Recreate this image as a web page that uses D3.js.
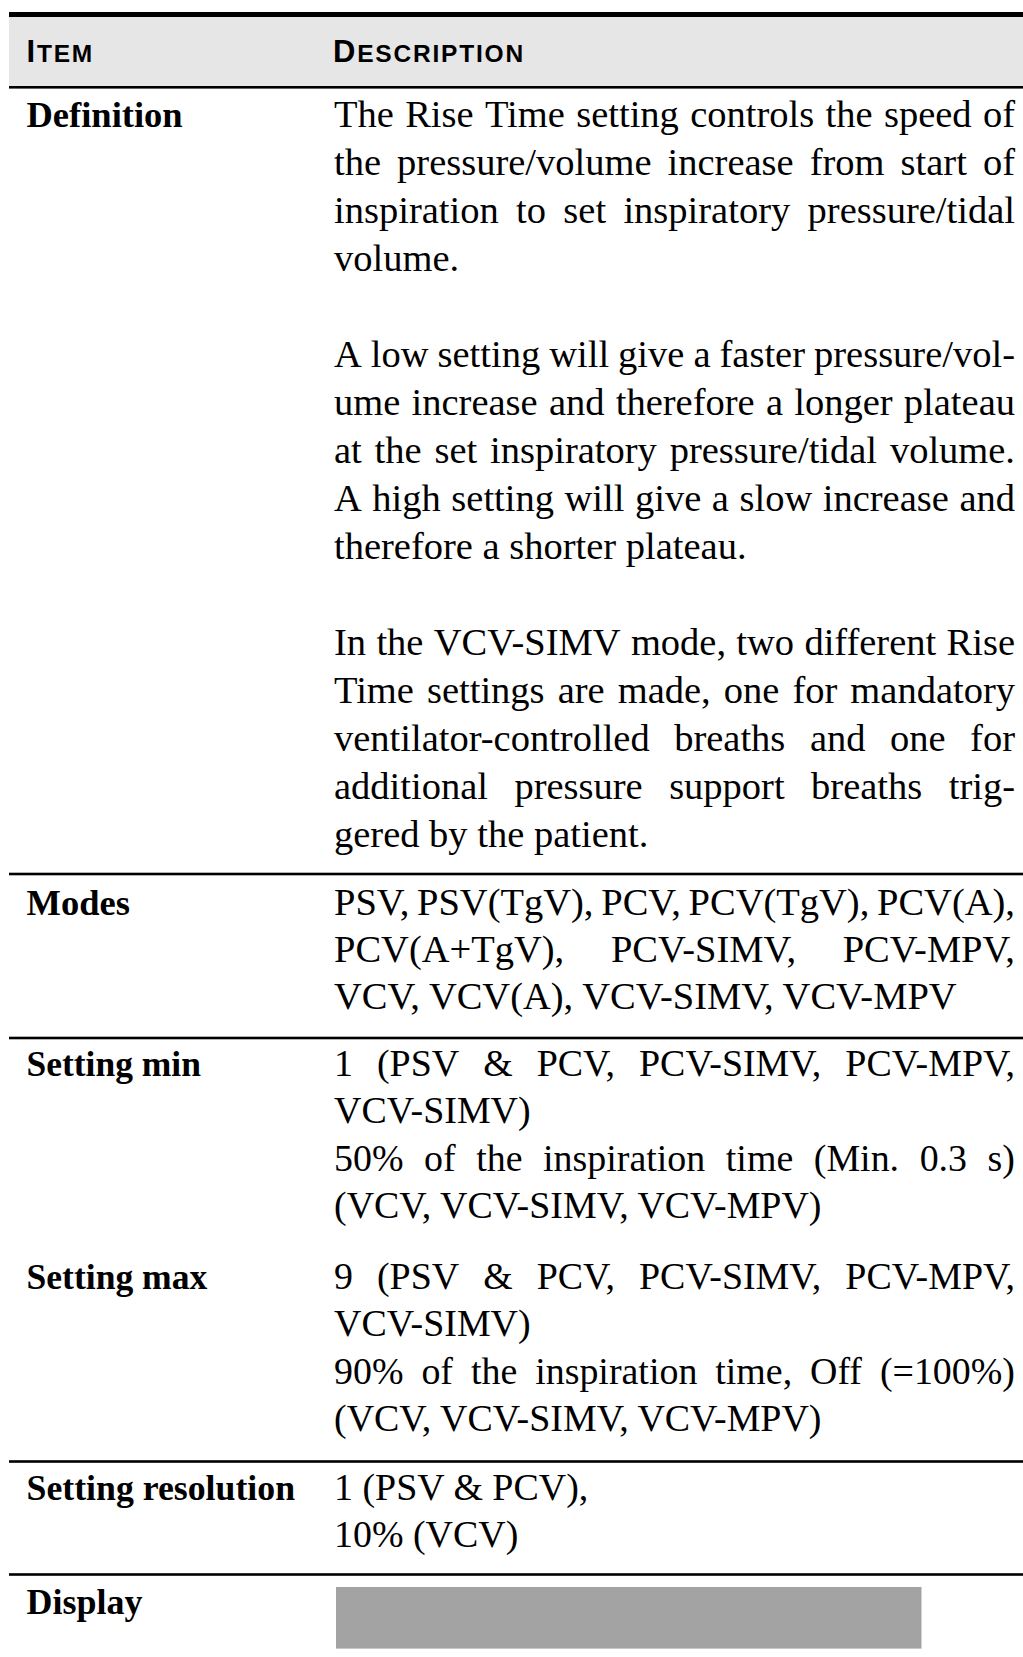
<!DOCTYPE html>
<html><head><meta charset="utf-8">
<script src="https://cdn.jsdelivr.net/npm/d3@7"></script>
<style>html,body{margin:0;padding:0;background:#fff;} svg{display:block;}</style>
</head><body>
<script>
// ---------- DATA ----------
const headerLabels = ["Item", "Description"];
const itemLabels = ["Definition", "Modes", "Setting min", "Setting max", "Setting resolution", "Display"];
const definitionParagraphs = [
  ["The Rise Time setting controls the speed of", "the pressure/volume increase from start of", "inspiration to set inspiratory pressure/tidal", "volume."],
  ["A low setting will give a faster pressure/vol-", "ume increase and therefore a longer plateau", "at the set inspiratory pressure/tidal volume.", "A high setting will give a slow increase and", "therefore a shorter plateau."],
  ["In the VCV-SIMV mode, two different Rise", "Time settings are made, one for mandatory", "ventilator-controlled breaths and one for", "additional pressure support breaths trig-", "gered by the patient."]
];
const modesParagraphs = [["PSV, PSV(TgV), PCV, PCV(TgV), PCV(A),", "PCV(A+TgV), PCV-SIMV, PCV-MPV,", "VCV, VCV(A), VCV-SIMV, VCV-MPV"]];
const settingMinParagraphs = [["1 (PSV & PCV, PCV-SIMV, PCV-MPV,", "VCV-SIMV)"], ["50% of the inspiration time (Min. 0.3 s)", "(VCV, VCV-SIMV, VCV-MPV)"]];
const settingMaxParagraphs = [["9 (PSV & PCV, PCV-SIMV, PCV-MPV,", "VCV-SIMV)"], ["90% of the inspiration time, Off (=100%)", "(VCV, VCV-SIMV, VCV-MPV)"]];
const settingResolutionParagraphs = [["1 (PSV & PCV),"], ["10% (VCV)"]];
const displayParagraphs = [];
const rowContents = [definitionParagraphs, modesParagraphs, settingMinParagraphs, settingMaxParagraphs, settingResolutionParagraphs, displayParagraphs];

// ---------- LAYOUT ----------
const W = 1023, H = 1657;
const tableLeft = 9, tableRight = 1023;
const colX = [26.5, 334];
const textRight = 1015;
const rowLayout = [
  {base: 127,  lineH: 48.0, gap: 1, sx: 1,    lsx: 1,     rule: 874},
  {base: 915,  lineH: 46.8, gap: 0, sx: 1,    lsx: 1,     rule: 1038},
  {base: 1076, lineH: 47.3, gap: 0, sx: 0.985, lsx: 0.972, rule: null},
  {base: 1289, lineH: 47.3, gap: 0, sx: 0.985, lsx: 0.975, rule: 1461.5},
  {base: 1500, lineH: 47.0, gap: 0, sx: 0.985, lsx: 0.98,  rule: 1574.5},
  {base: 1614, lineH: 47.0, gap: 0, sx: 1,    lsx: 0.985, rule: null}
];
const serif = "'Liberation Serif', 'Times New Roman', serif";
const sans = "'Liberation Sans', Arial, sans-serif";

const svg = d3.select("body").append("svg").attr("width", W).attr("height", H);
svg.append("rect").attr("width", W).attr("height", H).attr("fill", "#fff");

// header
svg.append("rect").attr("x", tableLeft).attr("y", 17).attr("width", tableRight - tableLeft).attr("height", 69).attr("fill", "#e6e6e6");
svg.append("rect").attr("x", tableLeft).attr("y", 12).attr("width", tableRight - tableLeft).attr("height", 5).attr("fill", "#000");
svg.append("rect").attr("x", tableLeft).attr("y", 86).attr("width", tableRight - tableLeft).attr("height", 2.6).attr("fill", "#000");

headerLabels.forEach((lab, i) => {
  const t = svg.append("text").attr("x", colX[i] - (i ? 1 : 0)).attr("y", 62)
    .attr("font-family", sans).attr("font-weight", "bold").attr("fill", "#000")
    .attr("letter-spacing", 1.8);
  t.append("tspan").attr("font-size", 31).text(lab[0].toUpperCase());
  t.append("tspan").attr("font-size", 24.5).text(lab.slice(1).toUpperCase());
});

function drawLine(g, text, x, y, width, justify, sx) {
  const grp = g.append("g").attr("transform", `translate(${x},${y}) scale(${sx},1)`);
  if (!justify || text.indexOf(" ") < 0) { grp.append("text").text(text); return; }
  const words = text.split(" ");
  const nodes = words.map(w => grp.append("text").text(w));
  const widths = nodes.map(n => n.node().getComputedTextLength());
  const gap = (width / sx - d3.sum(widths)) / (words.length - 1);
  let cx = 0;
  nodes.forEach((n, i) => { n.attr("x", cx); cx += widths[i] + gap; });
}

const body = svg.append("g").attr("font-family", serif).attr("fill", "#000");

rowLayout.forEach((L, r) => {
  const y = d3.scaleLinear().domain([0, 1]).range([L.base, L.base + L.lineH]);
  // label
  const lg = body.append("g").attr("transform", `translate(${colX[0]},${L.base}) scale(${L.lsx},1)`);
  lg.append("text").attr("font-size", 36.5).attr("font-weight", "bold").text(itemLabels[r]);
  // description
  const g = body.append("g").attr("font-size", 38.5);
  let idx = 0;
  rowContents[r].forEach((para, p) => {
    if (p > 0) idx += L.gap;
    para.forEach((line, li) => {
      drawLine(g, line, colX[1], y(idx), textRight - colX[1], li < para.length - 1, L.sx);
      idx++;
    });
  });
  if (L.rule !== null) {
    svg.append("rect").attr("x", tableLeft).attr("y", L.rule - 1.3).attr("width", tableRight - tableLeft).attr("height", 2.6).attr("fill", "#000");
  }
});

// display placeholder
svg.append("rect").attr("x", 336).attr("y", 1587).attr("width", 585.5).attr("height", 61.6).attr("fill", "#a3a3a3");
</script>
</body></html>
